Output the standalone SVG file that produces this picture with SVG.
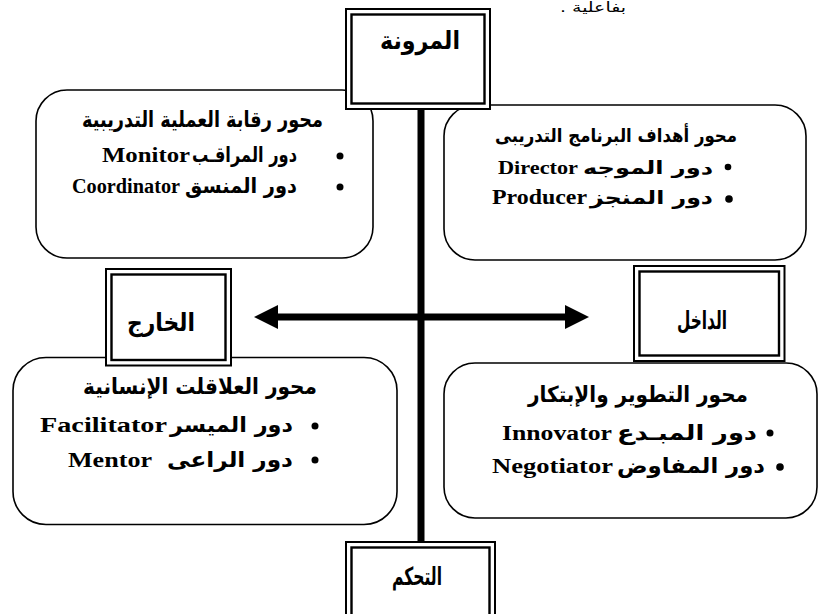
<svg xmlns="http://www.w3.org/2000/svg" width="819" height="614" viewBox="0 0 819 614">
<defs>
<style>
.rbox{fill:#fff;stroke:#000;stroke-width:1.6}
.outer{fill:#fff;stroke:#000;stroke-width:2}
.inner{fill:none;stroke:#000;stroke-width:2.4}
.lbl{font-family:"DejaVu Sans",sans-serif;font-weight:bold;font-size:25px;fill:#000;text-anchor:middle;direction:rtl}
.ttl{font-family:"DejaVu Sans",sans-serif;font-weight:bold;font-size:22px;fill:#000;direction:rtl;text-anchor:start}
.ar{font-family:"DejaVu Sans",sans-serif;font-weight:bold;font-size:21px;fill:#000;direction:rtl;text-anchor:start}
.en{font-family:"Liberation Serif","Times New Roman",serif;font-weight:bold;font-size:20px;fill:#000;text-anchor:start}
.bul{fill:#000}
.note{font-family:"DejaVu Sans",sans-serif;font-size:14px;fill:#000;direction:rtl;text-anchor:start}
</style>
<marker id="ah" markerUnits="userSpaceOnUse" markerWidth="25" markerHeight="25" refX="0" refY="12" orient="auto-start-reverse">
<path d="M0,0 L24,12 L0,24 z" fill="#000"/>
</marker>
</defs>
<rect width="819" height="614" fill="#fff"/>
<text class="note" x="626" y="12" textLength="66" lengthAdjust="spacingAndGlyphs">بفاعلية .</text>

<g id="box-monitoring">
<rect class="rbox" x="36" y="90" width="337" height="168" rx="31"/>
<text class="ttl" x="323" y="127" textLength="241" lengthAdjust="spacingAndGlyphs">محور رقابة العملية التدريبية</text>
<circle class="bul" cx="340" cy="156" r="3.5"/>
<text class="ar" x="297" y="162" textLength="105" lengthAdjust="spacingAndGlyphs">دور المراقـب</text>
<text class="en" x="102" y="162" textLength="88" lengthAdjust="spacingAndGlyphs">Monitor</text>
<circle class="bul" cx="340" cy="187" r="3.5"/>
<text class="ar" x="297" y="193" textLength="112" lengthAdjust="spacingAndGlyphs">دور المنسق</text>
<text class="en" x="72" y="193" textLength="108" lengthAdjust="spacingAndGlyphs">Coordinator</text>
</g>

<g id="box-goals">
<rect class="rbox" x="444" y="105" width="362" height="155" rx="31"/>
<text class="ttl" x="737" y="142" style="font-size:19px" textLength="242" lengthAdjust="spacingAndGlyphs">محور أهداف البرنامج التدريبى</text>
<circle class="bul" cx="728" cy="167" r="3.3"/>
<text class="ar" x="713" y="174" style="font-size:18px" textLength="130" lengthAdjust="spacingAndGlyphs">دور الموجه</text>
<text class="en" x="498" y="174" style="font-size:18px" textLength="80" lengthAdjust="spacingAndGlyphs">Director</text>
<circle class="bul" cx="729" cy="199" r="3.8"/>
<text class="ar" x="713" y="204" style="font-size:19px" textLength="123" lengthAdjust="spacingAndGlyphs">دور المنجز</text>
<text class="en" x="492" y="204" textLength="95" lengthAdjust="spacingAndGlyphs">Producer</text>
</g>

<g id="box-relations">
<rect class="rbox" x="13" y="357.5" width="384" height="167" rx="33"/>
<text class="ttl" x="317" y="394" textLength="234" lengthAdjust="spacingAndGlyphs">محور العلاقلت الإنسانية</text>
<circle class="bul" cx="315" cy="426" r="3.5"/>
<text class="ar" x="293" y="432" textLength="123" lengthAdjust="spacingAndGlyphs">دور الميسر</text>
<text class="en" x="40" y="432" textLength="127" lengthAdjust="spacingAndGlyphs">Facilitator</text>
<circle class="bul" cx="315" cy="460" r="3.5"/>
<text class="ar" x="293" y="467" textLength="126" lengthAdjust="spacingAndGlyphs">دور الراعى</text>
<text class="en" x="68" y="467" textLength="84" lengthAdjust="spacingAndGlyphs">Mentor</text>
</g>

<g id="box-innovation">
<rect class="rbox" x="444" y="363" width="373" height="155" rx="31"/>
<text class="ttl" x="748" y="402" textLength="220" lengthAdjust="spacingAndGlyphs">محور التطوير والإبتكار</text>
<circle class="bul" cx="770" cy="433" r="3.5"/>
<text class="ar" x="757" y="440" textLength="140" lengthAdjust="spacingAndGlyphs">دور المبـدع</text>
<text class="en" x="502" y="440" textLength="110" lengthAdjust="spacingAndGlyphs">Innovator</text>
<circle class="bul" cx="780" cy="467" r="3.8"/>
<text class="ar" x="765" y="473" textLength="148" lengthAdjust="spacingAndGlyphs">دور المفاوض</text>
<text class="en" x="492" y="473" textLength="121" lengthAdjust="spacingAndGlyphs">Negotiator</text>
</g>

<g id="connectors">
<line x1="421" y1="108" x2="421" y2="543" stroke="#000" stroke-width="7"/>
<line x1="278" y1="317" x2="565" y2="317" stroke="#000" stroke-width="7" marker-start="url(#ah)" marker-end="url(#ah)"/>
</g>

<g id="flexibility">
<rect class="outer" x="346" y="9" width="144" height="100"/>
<rect class="inner" x="351.5" y="14.5" width="133" height="89"/>
<text class="lbl" x="420" y="49" textLength="80" lengthAdjust="spacingAndGlyphs">المرونة</text>
</g>

<g id="external">
<rect class="outer" x="106" y="269" width="125" height="96.5"/>
<rect class="inner" x="111.5" y="274.5" width="114" height="85.5"/>
<text class="lbl" x="161" y="331" textLength="68" lengthAdjust="spacingAndGlyphs">الخارج</text>
</g>

<g id="internal">
<rect class="outer" x="634" y="266" width="150.5" height="95"/>
<rect class="inner" x="639.5" y="271.5" width="139.5" height="84"/>
<text class="lbl" x="702" y="329" textLength="50" lengthAdjust="spacingAndGlyphs">الداخل</text>
</g>

<g id="control">
<rect class="outer" x="346" y="542" width="149" height="80"/>
<rect class="inner" x="351.5" y="547.5" width="138" height="80"/>
<text class="lbl" x="417" y="585" textLength="50" lengthAdjust="spacingAndGlyphs">التحكم</text>
</g>
</svg>
